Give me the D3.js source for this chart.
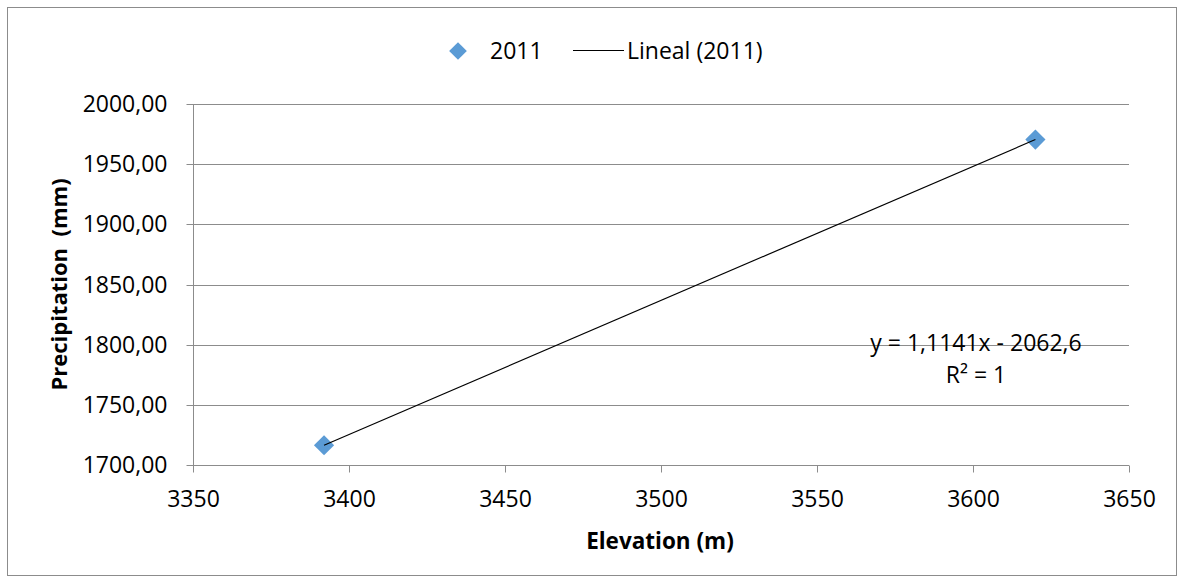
<!DOCTYPE html>
<html>
<head>
<meta charset="utf-8">
<script src="https://cdn.jsdelivr.net/npm/d3@7"></script>
<style>
  html, body { margin: 0; padding: 0; background: #fff; }
  svg { display: block; }
  text { font-family: "Open Sans", "Liberation Sans", sans-serif; fill: #000; white-space: pre; }
</style>
</head>
<body>
<svg id="chart" width="1185" height="584"></svg>
<script>
// Observed stations
const seriesName = "2011";
const elevation = [3392, 3620];
const precipitation = [1716.4, 1970.4];

// Linear trend fitted to the stations
const trendName = "Lineal (2011)";
const trendSlope = 1.1141;
const trendIntercept = -2062.6;
const trendLabel = ["y = 1,1141x - 2062,6", "R² = 1"];

// Axis ticks
const xTicks = [3350, 3400, 3450, 3500, 3550, 3600, 3650];
const yTicks = [1700, 1750, 1800, 1850, 1900, 1950, 2000];

const xTitle = "Elevation (m)";
const yTitle = "Precipitation  (mm)";

const W = 1185, H = 584;
const plot = { left: 193, right: 1129, top: 104, bottom: 465 };
const gridColor = "#8c8c8c";
const markerColor = "#5b9bd5";
const fontSize = 23;

const svg = d3.select("#chart");

// Outer frame
svg.append("rect")
  .attr("x", 7.5).attr("y", 7.5)
  .attr("width", W - 16).attr("height", H - 16)
  .attr("fill", "#fff").attr("stroke", "#8c8c8c").attr("stroke-width", 1);

const x = d3.scaleLinear().domain([3350, 3650]).range([plot.left, plot.right]);
const y = d3.scaleLinear().domain([1700, 2000]).range([plot.bottom, plot.top]);

const es = d3.formatLocale({ decimal: ",", thousands: "", grouping: [3], currency: ["", ""] });
const fmtY = es.format(".2f");

// Horizontal gridlines
svg.append("g")
  .selectAll("line")
  .data(yTicks.filter(v => v !== 1700))
  .join("line")
  .attr("x1", plot.left).attr("x2", plot.right)
  .attr("y1", d => Math.round(y(d)) + 0.5).attr("y2", d => Math.round(y(d)) + 0.5)
  .attr("stroke", gridColor).attr("stroke-width", 1);

// Y axis
const yAxis = svg.append("g")
  .attr("transform", `translate(${plot.left + 0.5},0)`)
  .call(d3.axisLeft(y).tickValues(yTicks).tickFormat(fmtY).tickSize(7).tickPadding(19));
yAxis.select(".domain").attr("stroke", gridColor).attr("d", `M0,${plot.top}V${plot.bottom}`);
yAxis.selectAll(".tick line").attr("stroke", gridColor);
yAxis.selectAll(".tick text").style("font-size", fontSize + "px").attr("fill", "#000")
  .style("font-family", '"Open Sans", sans-serif');
yAxis.selectAll(".tick").attr("transform", d => `translate(0,${Math.round(y(d)) + 0.5})`);

// X axis
const xAxis = svg.append("g")
  .attr("transform", `translate(0,${plot.bottom + 0.5})`)
  .call(d3.axisBottom(x).tickValues(xTicks).tickFormat(d3.format("d")).tickSize(7).tickPadding(18));
xAxis.select(".domain").attr("stroke", gridColor).attr("d", `M${plot.left},0H${plot.right}`);
xAxis.selectAll(".tick line").attr("stroke", gridColor);
xAxis.selectAll(".tick text").style("font-size", fontSize + "px").attr("fill", "#000")
  .style("font-family", '"Open Sans", sans-serif');
xAxis.selectAll(".tick").attr("transform", d => `translate(${Math.round(x(d)) + 0.5},0)`);

// Axis titles
svg.append("text")
  .attr("x", (plot.left + plot.right) / 2 - 1).attr("y", 549)
  .attr("text-anchor", "middle")
  .style("font-size", (fontSize - 0.5) + "px").style("font-weight", "bold")
  .text(xTitle);

svg.append("text")
  .attr("transform", `translate(67,${(plot.top + plot.bottom) / 2 - 0}) rotate(-90)`)
  .attr("text-anchor", "middle")
  .style("font-size", (fontSize - 1) + "px").style("font-weight", "bold")
  .text(yTitle);

// Trend line over the observed elevation range
const xr = d3.extent(elevation);
const trend = [xr[0], xr[1]].map(e => [e, trendSlope * e + trendIntercept]);

// Station markers
const diamond = d3.symbol().type(d3.symbolDiamond2).size(260);
svg.append("g")
  .selectAll("path")
  .data(elevation.map((e, i) => [e, precipitation[i]]))
  .join("path")
  .attr("d", diamond)
  .attr("transform", d => `translate(${x(d[0])},${y(d[1])})`)
  .attr("fill", markerColor);

svg.append("line")
  .attr("x1", x(trend[0][0])).attr("y1", y(trend[0][1]))
  .attr("x2", x(trend[1][0])).attr("y2", y(trend[1][1]))
  .attr("stroke", "#000").attr("stroke-width", 1.2);

// Trend equation
svg.append("text")
  .attr("x", 976).attr("y", 351)
  .attr("text-anchor", "middle")
  .style("font-size", fontSize + "px")
  .text(trendLabel[0]);
svg.append("text")
  .attr("x", 976).attr("y", 383)
  .attr("text-anchor", "middle")
  .style("font-size", fontSize + "px")
  .text(trendLabel[1]);

// Legend
const lg = svg.append("g");
lg.append("path")
  .attr("d", d3.symbol().type(d3.symbolDiamond2).size(200))
  .attr("transform", "translate(458,51)")
  .attr("fill", markerColor);
lg.append("text").attr("x", 490).attr("y", 59)
  .style("font-size", fontSize + "px").text(seriesName);
lg.append("line")
  .attr("x1", 573).attr("x2", 624).attr("y1", 50.5).attr("y2", 50.5)
  .attr("stroke", "#000").attr("stroke-width", 1.2);
lg.append("text").attr("x", 627).attr("y", 59)
  .style("font-size", fontSize + "px").text(trendName);
</script>
</body>
</html>
